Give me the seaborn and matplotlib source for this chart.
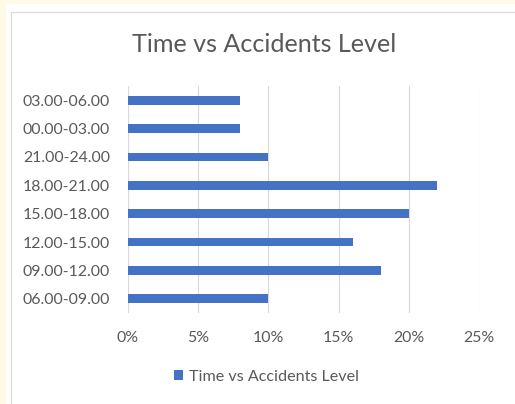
import matplotlib
matplotlib.use("Agg")
import matplotlib.pyplot as plt
import seaborn as sns
import pandas as pd
from matplotlib.patches import Patch, Rectangle

# ---- data ----
time_slots = ["03.00-06.00", "00.00-03.00", "21.00-24.00", "18.00-21.00",
              "15.00-18.00", "12.00-15.00", "09.00-12.00", "06.00-09.00"]
accident_share = [0.08, 0.08, 0.10, 0.22, 0.20, 0.16, 0.18, 0.10]
x_ticks = [0.0, 0.05, 0.10, 0.15, 0.20, 0.25]
x_tick_labels = ["0%", "5%", "10%", "15%", "20%", "25%"]
chart_title = "Time vs Accidents Level"
series_name = "Time vs Accidents Level"

# ---- style ----
W, H, DPI = 515, 404, 100
sns.set_theme(style="white")
FONT = "Lato"
plt.rcParams["font.family"] = [FONT, "DejaVu Sans"]
TEXT = "#595959"
BAR = "#4472C4"
GRID = "#D9D9D9"

fig = plt.figure(figsize=(W / DPI, H / DPI), dpi=DPI, facecolor="white")


def fx(px):
    return px / W


def fy(py):
    return 1 - py / H


PT = 72 / DPI  # points per pixel

# background frame (cream margin + light grey chart border)
fig.patches.append(Rectangle((0, 0), 1, 1, transform=fig.transFigure,
                             facecolor="#FFFAE6", edgecolor="none", zorder=-3))
fig.patches.append(Rectangle((fx(6), -0.01), 1.0, fy(3.5) + 0.01, transform=fig.transFigure,
                             facecolor="white", edgecolor="none", zorder=-2))
fig.patches.append(Rectangle((fx(10.5), -0.1), 1.2, fy(11.5) + 0.1, transform=fig.transFigure,
                             facecolor="white", edgecolor=GRID, lw=1.2 * PT, zorder=-1))

renderer = fig.canvas.get_renderer()


def fit_size(text, target_px):
    t = fig.text(0, 0, text, fontsize=10)
    w = t.get_window_extent(renderer).width
    t.remove()
    return 10 * target_px / w


title_fs = fit_size(chart_title, 264)
tick_fs = fit_size("03.00-06.00", 86.7)
legend_fs = fit_size(series_name, 170)

ax_l, ax_r, ax_t, ax_b = 127.9, 479.0, 86.0, 313.0
ax = fig.add_axes([fx(ax_l), fy(ax_b), fx(ax_r) - fx(ax_l), fy(ax_t) - fy(ax_b)])
ax.set_facecolor("none")

df = pd.DataFrame({"slot": time_slots, "share": accident_share})
sns.barplot(data=df, x="share", y="slot", orient="h", color=BAR, saturation=1,
            width=0.31, ax=ax, order=time_slots, linewidth=0, edgecolor="none")

ax.set_xlim(0, 0.25)
ax.set_ylim(7.5, -0.5)
ax.set_xticks(x_ticks)
ax.set_xticklabels(x_tick_labels)
ax.set_xlabel("")
ax.set_ylabel("")
ax.grid(axis="x", color=GRID, lw=1.2 * PT)
ax.grid(axis="y", visible=False)
ax.set_axisbelow(True)
for s in ax.spines.values():
    s.set_visible(False)
ax.tick_params(axis="y", length=0, pad=17.9 * PT, labelsize=tick_fs, labelcolor=TEXT)
ax.tick_params(axis="x", length=0, pad=18 * PT, labelsize=tick_fs, labelcolor=TEXT)

fig.text(fx(263.7), fy(52.3), chart_title, ha="center", va="baseline",
         fontsize=title_fs, color=TEXT)

sq = 9.0
leg_px = legend_fs / PT
fig.legend(handles=[Patch(facecolor=BAR, edgecolor="none", label=series_name)],
           loc="center", bbox_to_anchor=(fx(266.5), fy(377)), frameon=False,
           fontsize=legend_fs, labelcolor=TEXT, handlelength=sq / leg_px,
           handleheight=sq / leg_px, handletextpad=6 / leg_px, borderpad=0,
           borderaxespad=0)

fig.savefig("out.png", dpi=DPI, facecolor=fig.get_facecolor())
